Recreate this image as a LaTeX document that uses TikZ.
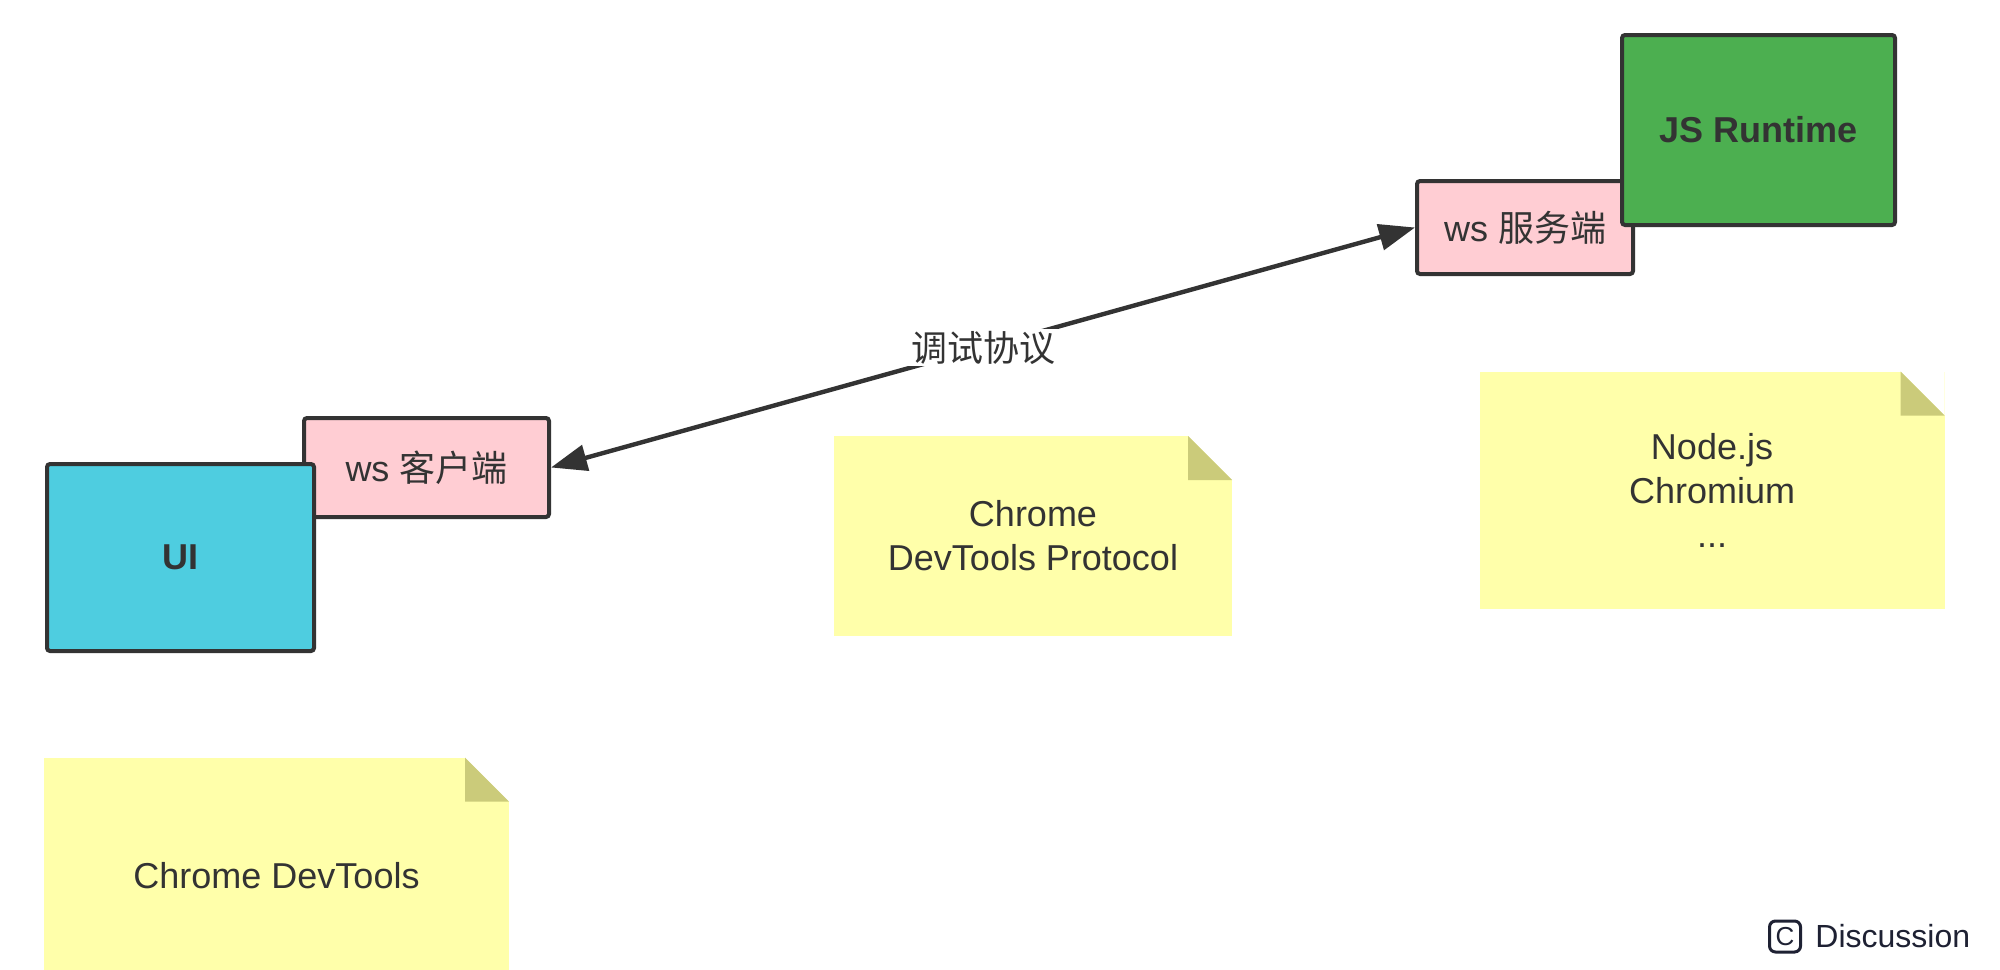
\documentclass[tikz,border=0pt]{standalone}
\usepackage{fontspec}
\setmainfont{Liberation Sans}
\newfontfamily\cjk{Noto Sans CJK SC}
\usetikzlibrary{arrows.meta}
\definecolor{boxline}{HTML}{333333}
\definecolor{textgray}{HTML}{333333}
\definecolor{uiblue}{HTML}{4ECDE0}
\definecolor{wspink}{HTML}{FFCDD3}
\definecolor{rtgreen}{HTML}{4CAF50}
\definecolor{notefill}{HTML}{FFFFAA}
\definecolor{notefold}{HTML}{CBCB7A}
\definecolor{discuss}{HTML}{1E2133}
\tikzstyle{box}     = [draw=boxline, line width=2pt, rounded corners=1.5pt, inner sep=0pt, text=textgray, font=\fontsize{18}{22}\selectfont]
\tikzstyle{notebox} = [fill=notefill, inner sep=0pt, align=center, text=textgray, font=\fontsize{18}{22}\selectfont,
                       path picture={
                         \fill[white] (path picture bounding box.north east) -- ([xshift=-22pt]path picture bounding box.north east) -- ([yshift=-22pt]path picture bounding box.north east) -- cycle;
                         \fill[notefold] ([xshift=-22pt]path picture bounding box.north east) -- ([xshift=-22pt,yshift=-22pt]path picture bounding box.north east) -- ([yshift=-22pt]path picture bounding box.north east) -- cycle;
                       }]
\tikzstyle{link}    = [draw=boxline, line width=2.2pt, {Triangle[length=18pt,width=13pt]}-{Triangle[length=18pt,width=13pt]}]
\tikzstyle{tag}     = [fill=white, inner xsep=2.5pt, inner ysep=1pt, text=textgray, font=\cjk\fontsize{18}{22}\selectfont]

\begin{document}
\begin{tikzpicture}[x=0.5pt,y=-0.5pt]
		\useasboundingbox (0,0) rectangle (2000,969);
		\fill[white] (0,0) rectangle (2000,969);
		\clip (0,0) rectangle (2000,969);

		% notes
		\node[notebox, minimum width=199pt, minimum height=100pt] (cdpnote) at (1033,536) {Chrome\\DevTools Protocol};
		\node[notebox, minimum width=232.5pt, minimum height=118.5pt] (enginenote) at (1712,490) {Node.js\\Chromium\\...};
		\node[notebox, minimum width=232.5pt, minimum height=118.5pt] (devtoolsnote) at (276.5,876) {Chrome DevTools};

		% client side
		\node[box, fill=wspink, minimum width=122.5pt, minimum height=49.5pt] (wsclient) at (426.5,467.5) {ws {\cjk 客户端}};
		\node[box, fill=uiblue, minimum width=133.5pt, minimum height=93.5pt, font=\fontsize{18}{22}\selectfont\bfseries] (ui) at (180.5,557.5) {UI};

		% runtime side
		\node[box, fill=wspink, minimum width=108pt, minimum height=46.5pt] (wsserver) at (1525,227.5) {ws {\cjk 服务端}};
		\node[box, fill=rtgreen, minimum width=136.5pt, minimum height=95pt, font=\fontsize{18}{22}\selectfont\bfseries] (runtime) at (1758.5,130) {JS Runtime};

		% protocol
		\draw[link] (wsclient.east) -- node[tag] (proto) {调试协议} (wsserver.west);

		% watermark
		\node[draw=discuss, line width=1.5pt, rounded corners=3pt, minimum size=15.5pt, inner sep=0pt, text=discuss, font=\fontsize{13}{13}\selectfont] (badge) at (1785,936.5) {C};
		\node[anchor=west, inner sep=0pt, text=discuss, font=\fontsize{16}{16}\selectfont] (discuss) at ([xshift=6.5pt]badge.east) {Discussion};
	\end{tikzpicture}
\end{document}
